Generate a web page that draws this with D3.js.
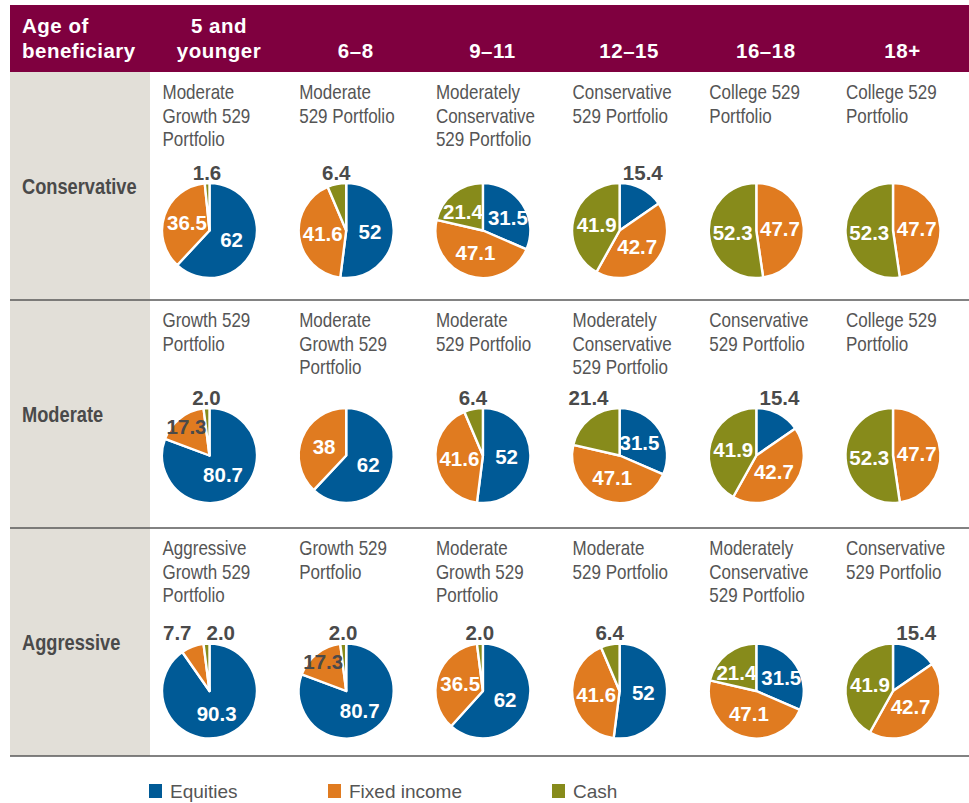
<!DOCTYPE html>
<html><head><meta charset="utf-8">
<script src="https://cdn.jsdelivr.net/npm/d3@7"></script>
<style>body{margin:0;background:#fff} svg{display:block}</style>
</head><body><svg id="c" width="969" height="803"></svg>
<script>
// ---------- data ----------
const ageGroups = [["5 and","younger"],["6–8"],["9–11"],["12–15"],["16–18"],["18+"]];
const headerLabel = ["Age of","beneficiary"];
const riskLevels = ["Conservative","Moderate","Aggressive"];
const seriesNames = ["Equities","Fixed income","Cash"];
const portfolioTitles = [
  [["Moderate","Growth 529","Portfolio"],["Moderate","529 Portfolio"],["Moderately","Conservative","529 Portfolio"],["Conservative","529 Portfolio"],["College 529","Portfolio"],["College 529","Portfolio"]],
  [["Growth 529","Portfolio"],["Moderate","Growth 529","Portfolio"],["Moderate","529 Portfolio"],["Moderately","Conservative","529 Portfolio"],["Conservative","529 Portfolio"],["College 529","Portfolio"]],
  [["Aggressive","Growth 529","Portfolio"],["Growth 529","Portfolio"],["Moderate","Growth 529","Portfolio"],["Moderate","529 Portfolio"],["Moderately","Conservative","529 Portfolio"],["Conservative","529 Portfolio"]]
];
const equities    = [[62, 52, 31.5, 15.4, 0, 0], [80.7, 62, 52, 31.5, 15.4, 0], [90.3, 80.7, 62, 52, 31.5, 15.4]];
const fixedIncome = [[36.5, 41.6, 47.1, 42.7, 47.7, 47.7], [17.3, 38, 41.6, 47.1, 42.7, 47.7], [7.7, 17.3, 36.5, 41.6, 47.1, 42.7]];
const cash        = [[1.6, 6.4, 21.4, 41.9, 52.3, 52.3], [2.0, 0, 6.4, 21.4, 41.9, 52.3], [2.0, 2.0, 2.0, 6.4, 21.4, 41.9]];
// slices whose label sits outside the pie although large: [row, col, series]
const outsideOverride = [[1, 3, 2]];

// ---------- style / layout ----------
const colors = ["#005a96", "#e07b20", "#878b1b"];
const maroon = "#7f003f", panelGray = "#e2dfd8", darkText = "#4a4a4a", titleText = "#555";
const sans = "'Liberation Sans',Arial,sans-serif";
const R = 47.5;
const pieOffset = [158.5, 155.5, 163];

const svg = d3.select("#c");
const x = d3.scaleBand().domain(d3.range(ageGroups.length)).range([141.15, 141.15 + 6 * 136.7]);
const y = d3.scaleBand().domain(riskLevels).range([72, 756]);
const color = d3.scaleOrdinal().domain(seriesNames).range(colors);
const fmt = v => (v < 10 || !Number.isInteger(v)) ? v.toFixed(1) : String(v);

// condensed text helper (horizontal squeeze of Liberation Sans)
function ctext(sel, tx, ty, sx) {
  return sel.append("text").attr("transform", `translate(${tx},${ty}) scale(${sx},1)`);
}

// backgrounds
svg.append("rect").attr("x", 10).attr("y", 5).attr("width", 959).attr("height", 67).attr("fill", maroon);
svg.append("rect").attr("x", 10).attr("y", 72).attr("width", 140).attr("height", 684).attr("fill", panelGray);

// header
const hdr = svg.append("g").attr("fill", "#fff").attr("font-family", sans).attr("font-weight", "bold")
  .attr("font-size", 20.5).attr("letter-spacing", 0.5);
headerLabel.forEach((t, i) => hdr.append("text").attr("x", 22).attr("y", 33 + i * 25).text(t));
ageGroups.forEach((lines, c) => {
  lines.forEach((t, i) => {
    hdr.append("text").attr("text-anchor", "middle")
      .attr("x", x(c) + x.bandwidth() / 2 + 9.5)
      .attr("y", 58 - (lines.length - 1 - i) * 25).text(t);
  });
});

// row dividers
riskLevels.forEach(r => {
  svg.append("line").attr("x1", 10).attr("x2", 969)
    .attr("y1", y(r) + y.bandwidth()).attr("y2", y(r) + y.bandwidth())
    .attr("stroke", "#595959").attr("stroke-width", 1.6);
});

// row labels
riskLevels.forEach(r => {
  ctext(svg, 22, y(r) + y.bandwidth() / 2 + 7.5, 0.83)
    .attr("font-family", sans).attr("font-weight", "bold").attr("font-size", 22)
    .attr("fill", darkText).text(r);
});

const pie = d3.pie().sort(null).value(d => d.value);
const arc = d3.arc().innerRadius(0).outerRadius(R);
const inArc = d3.arc().innerRadius(R * 0.5).outerRadius(R * 0.5);
const darkArc = d3.arc().innerRadius(R * 0.78).outerRadius(R * 0.78);

function spread(list, sameRow, extra) {
  for (let iter = 0; iter < 3; iter++) {
    for (let i = 0; i < list.length; i++) for (let j = i + 1; j < list.length; j++) {
      let a = list[i], b = list[j];
      if (a.px > b.px) [a, b] = [b, a];
      if (sameRow && Math.abs(a.py - b.py) > 16) continue;
      const need = (a.w + b.w) / 2 + extra;
      if (b.px - a.px < need) {
        const m = (a.px + b.px) / 2;
        a.px = m - need / 2; b.px = m + need / 2;
      }
    }
  }
}

riskLevels.forEach((risk, ri) => {
  ageGroups.forEach((age, ci) => {
    const cx = x(ci) + x.bandwidth() / 2;
    const cy = y(risk) + pieOffset[ri];
    // title
    const tg = svg.append("g").attr("font-family", sans).attr("font-size", 20).attr("fill", titleText);
    portfolioTitles[ri][ci].forEach((t, i) => {
      ctext(tg, cx - 47, y(risk) + 27 + i * 23.5, 0.85).text(t);
    });
    const vals = [equities[ri][ci], fixedIncome[ri][ci], cash[ri][ci]];
    const data = vals.map((v, si) => ({ value: v, series: seriesNames[si], si }));
    const arcs = pie(data).filter(d => d.data.value > 0);
    const g = svg.append("g").attr("transform", `translate(${cx},${cy})`);
    g.selectAll("path").data(arcs).join("path")
      .attr("d", arc).attr("fill", d => color(d.data.series))
      .attr("stroke", "#fff").attr("stroke-width", 2.4).attr("stroke-linejoin", "round");

    const labels = arcs.map(d => {
      const v = d.data.value;
      const forced = outsideOverride.some(o => o[0] === ri && o[1] === ci && o[2] === d.data.si);
      const mode = (forced || v < 16) ? "out" : (v < 20 ? "dark" : "in");
      const mid = (d.startAngle + d.endAngle) / 2;
      let px, py;
      if (mode === "out") { px = Math.sin(mid) * R * 1.05; py = -R - 3.5; }
      else if (mode === "dark") { [px, py] = darkArc.centroid(d); }
      else { [px, py] = inArc.centroid(d); }
      const txt = fmt(v);
      return { text: txt, mode, px, py, w: txt.length * 10.5 };
    });
    spread(labels.filter(l => l.mode === "out"), false, 12);
    spread(labels.filter(l => l.mode !== "out"), true, 3);

    g.selectAll("text.lbl").data(labels).join("text").attr("class", "lbl")
      .attr("x", d => d.px).attr("y", d => d.py)
      .attr("dy", d => d.mode === "out" ? 0 : "0.36em")
      .attr("text-anchor", "middle")
      .attr("font-family", sans).attr("font-weight", "bold").attr("font-size", 20.5)
      .attr("fill", d => d.mode === "in" ? "#fff" : darkText)
      .text(d => d.text);
  });
});

// legend
const legX = [149, 328, 552];
const lg = svg.append("g");
seriesNames.forEach((s, i) => {
  lg.append("rect").attr("x", legX[i]).attr("y", 784).attr("width", 13).attr("height", 14).attr("fill", color(s));
  lg.append("text").attr("x", legX[i] + 21).attr("y", 798).attr("font-family", sans)
    .attr("font-size", 19).attr("fill", titleText).text(s);
});
</script>
</body></html>
